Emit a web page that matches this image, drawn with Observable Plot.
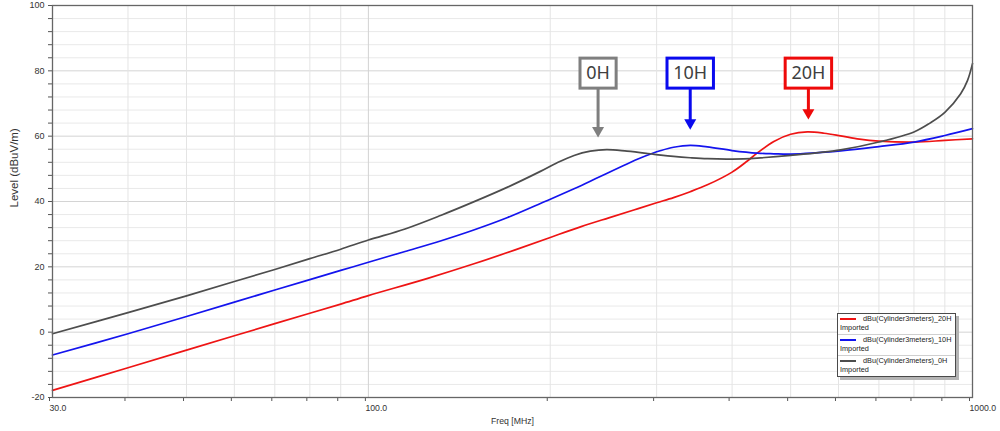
<!DOCTYPE html>
<html>
<head>
<meta charset="utf-8">
<script src="https://cdn.jsdelivr.net/npm/d3@7"></script>
<script src="https://cdn.jsdelivr.net/npm/@observablehq/plot@0.6"></script>
<style>
  body { margin: 0; background: #fff; }
  #wrap { position: relative; width: 1000px; height: 431px; }
  #legend { position: absolute; left: 837px; top: 313px; width: 117px; height: 62px;
    border: 1px solid #4a4a4a; background: #fff; box-shadow: 3px 3px 0 #b4b4b4;
    font-family: "Liberation Sans", Arial, sans-serif; font-size: 7.3px; color: #222; line-height: 8px; }
  .row { position: relative; height: 20px; border-bottom: 1px solid #cfcfcf; }
  .row:last-child { border-bottom: none; }
  .sw { position: absolute; left: 2px; top: 4px; width: 16px; height: 0; border-top: 2px solid; }
  .nm { position: absolute; left: 25px; top: 1px; white-space: nowrap; }
  .im { position: absolute; left: 2px; top: 10px; }
</style>
</head>
<body>
<div id="wrap"></div>
<script>
// ---- data ----
const seriesNames = ["dBu(Cylinder3meters)_20H", "dBu(Cylinder3meters)_10H", "dBu(Cylinder3meters)_0H"];
const seriesSub = "Imported";
const seriesColors = ["#ee1414", "#1414ee", "#4d4d4d"];

const freq20H = [30, 40, 50, 60, 70, 80, 90, 100, 125, 150, 175, 200, 225, 250, 275, 300, 320, 341, 364, 400, 424, 440, 469, 500, 533, 568, 605, 650, 700, 800, 900, 1000];
const level20H = [-17.8, -10.9, -5.5, -1.1, 2.6, 5.8, 8.6, 11.2, 16.4, 21.0, 25.2, 29.0, 32.3, 35.0, 37.4, 39.6, 41.2, 43.0, 45.1, 49.0, 52.4, 54.8, 58.4, 60.6, 61.3, 60.9, 60.1, 59.1, 58.5, 58.2, 58.7, 59.2];

const freq10H = [30, 40, 50, 60, 70, 80, 90, 100, 115, 132, 149, 170, 196, 219, 233, 248, 268, 282, 294, 305, 320, 341, 364, 400, 440, 469, 500, 605, 700, 800, 900, 1000];
const level10H = [-7.0, -0.5, 4.8, 9.2, 12.9, 16.1, 18.9, 21.4, 24.7, 28.0, 31.2, 35.1, 40.0, 43.9, 46.2, 48.6, 51.5, 53.3, 54.6, 55.6, 56.6, 57.2, 56.7, 55.6, 54.8, 54.6, 54.5, 55.5, 56.8, 58.2, 60.2, 62.3];

const freq0H = [30, 40, 50, 60, 70, 80, 90, 100, 115, 132, 149, 170, 193, 205, 219, 233, 248, 268, 290, 305, 320, 341, 364, 400, 440, 500, 605, 700, 800, 850, 900, 956, 981, 1000];
const level0H = [-0.5, 6.0, 11.1, 15.5, 19.2, 22.5, 25.4, 28.2, 31.6, 35.8, 39.8, 44.4, 49.3, 51.8, 54.1, 55.4, 55.9, 55.4, 54.7, 54.2, 53.8, 53.4, 53.1, 53.0, 53.3, 54.1, 55.8, 58.2, 61.3, 64.0, 67.3, 73.0, 77.0, 82.2];

const xTickValues = [30, 40, 50, 60, 70, 80, 90, 100, 200, 300, 400, 500, 600, 700, 800, 900, 1000];
const xLabelValues = [30, 100, 1000];
const xLabelTexts = ["30.0", "100.0", "1000.0"];
const yTickValues = d3.range(-20, 101, 4);
const yLabelValues = [-20, 0, 20, 40, 60, 80, 100];
const yLabelTexts = ["-20", "0", "20", "40", "60", "80", "100"];
const yGridMajor = [0, 20, 40, 60, 80];
const yGridMinor = yTickValues.filter(v => v > -20 && v < 100 && !yGridMajor.includes(v));
const xGrid = xTickValues.filter(v => v > 30 && v < 1000 && v !== 100);

const xTitle = "Freq [MHz]";
const yTitle = "Level (dBuV/m)";

const annotLabels = ["0H", "10H", "20H"];
const annotFreq = [240, 341, 535];
const annotBoxLevel = [79.3, 79.3, 79.3];
const annotTipLevel = [59.6, 62.0, 65.1];
const annotColors = ["#7f7f7f", "#0a0aee", "#ee0a0a"];

// ---- build ----
const rows = (f, l) => f.map((d, i) => ({freq: d, level: l[i]}));
const series = [rows(freq20H, level20H), rows(freq10H, level10H), rows(freq0H, level0H)];

const annotMarks = [];
annotLabels.forEach((lab, i) => {
  const d = [{freq: annotFreq[i], box: annotBoxLevel[i], tip: annotTipLevel[i], label: lab}];
  annotMarks.push(Plot.ruleX(d, {x: "freq", y1: "box", y2: "tip", stroke: annotColors[i], strokeWidth: 3, dy: -4}));
  annotMarks.push(Plot.dot(d, {x: "freq", y: "tip", symbol: "triangle", r: 4.45, rotate: 180, fill: annotColors[i], stroke: "none", dy: -6.9}));
  annotMarks.push(Plot.text(d, {x: "freq", y: "box", text: "label", fontSize: 18, fontFamily: "Noto Sans", fill: "#404040", lineAnchor: "middle"}));
});

const chart = Plot.plot({
  width: 1000, height: 431,
  marginLeft: 52, marginRight: 28, marginTop: 5, marginBottom: 34,
  x: {type: "log", domain: [30, 1000]},
  y: {domain: [-20, 100]},
  style: {fontFamily: '"Liberation Sans", Arial, sans-serif', fontSize: "9px", color: "#333", background: "#fff"},
  marks: [
    Plot.ruleY(yGridMinor, {stroke: "#e9e9e9"}),
    Plot.ruleY(yGridMajor, {stroke: "#d4d4d4"}),
    Plot.ruleX(xGrid, {stroke: "#e4e4e4"}),
    Plot.ruleX([100], {stroke: "#d2d2d2"}),
    ...series.map((s, i) => Plot.line(s, {x: "freq", y: "level", stroke: seriesColors[i], strokeWidth: 1.7, curve: "catmull-rom"})),
    Plot.axisY({ticks: yTickValues, tickSize: 4, tickPadding: 4, stroke: "#555", fill: "#333", fontSize: 9, label: null,
      tickFormat: d => { const k = yLabelValues.indexOf(d); return k >= 0 ? yLabelTexts[k] : ""; }}),
    Plot.axisX({ticks: xTickValues, tickSize: 4, tickPadding: 3, stroke: "#555", fill: "#333", fontSize: 8.7, label: null,
      textAnchor: "start", dx: -3,
      tickFormat: d => { const k = xLabelValues.indexOf(d); return k >= 0 ? xLabelTexts[k] : ""; }}),
    Plot.frame({stroke: "#666", strokeWidth: 1.3}),
    Plot.text([yTitle], {frameAnchor: "left", rotate: -90, dx: -38, dy: 6, fontSize: 11.5, fill: "#333"}),
    Plot.text([xTitle], {frameAnchor: "bottom", dy: 24, lineAnchor: "middle", fontSize: 8.7, fill: "#333"}),
    ...annotMarks
  ]
});

const wrap = document.getElementById("wrap");
wrap.appendChild(chart);

// boxes around annotation labels
const xs = chart.scale("x"), ys = chart.scale("y");
const texts = Array.from(chart.querySelectorAll("text"));
annotLabels.forEach((lab, i) => {
  const t = texts.find(el => el.textContent === lab);
  if (!t) return;
  const bb = t.getBBox();
  const cx = xs.apply(annotFreq[i]);
  const cy = ys.apply(annotBoxLevel[i]);
  const w = bb.width + 12.5, h = 30;
  const r = document.createElementNS("http://www.w3.org/2000/svg", "rect");
  r.setAttribute("x", cx - w / 2);
  r.setAttribute("y", cy - h / 2);
  r.setAttribute("width", w);
  r.setAttribute("height", h);
  r.setAttribute("fill", "#fff");
  r.setAttribute("stroke", annotColors[i]);
  r.setAttribute("stroke-width", 3);
  t.parentNode.insertBefore(r, t.parentNode.firstChild);
});

// legend
const legend = document.createElement("div");
legend.id = "legend";
seriesNames.forEach((name, i) => {
  const row = document.createElement("div");
  row.className = "row";
  row.innerHTML = `<div class="sw" style="border-top-color:${seriesColors[i]}"></div><div class="nm">${name}</div><div class="im">${seriesSub}</div>`;
  legend.appendChild(row);
});
wrap.appendChild(legend);
</script>
</body>
</html>
